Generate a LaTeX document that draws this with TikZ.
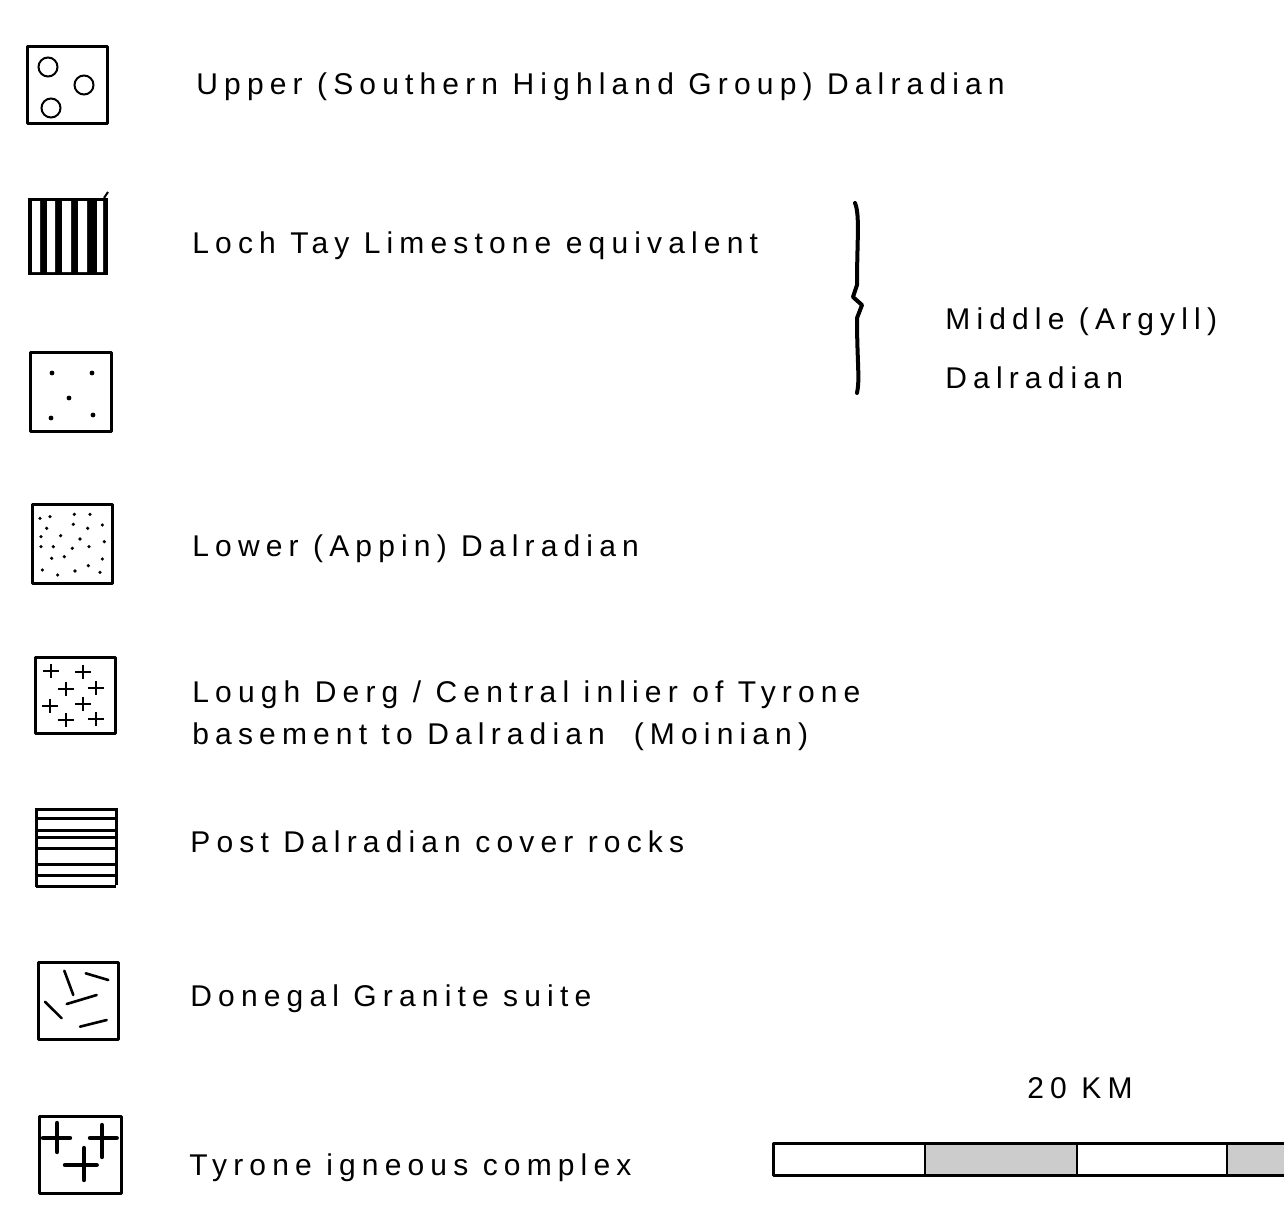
\documentclass[tikz,border=0pt]{standalone}
\usepackage{fontspec}
\setmainfont[LetterSpace=20.5]{Liberation Sans}
\begin{document}
\begin{tikzpicture}[x=0.5pt,y=-0.5pt,
  lbl/.style={anchor=base west, inner sep=0pt, font=\fontsize{15}{17}\selectfont},
  frame/.style={line width=1.5pt, line join=round},
  stroke/.style={line width=1.3pt, line cap=round},
  thickstroke/.style={line width=2.2pt, line cap=round}]
\useasboundingbox (0,0) rectangle (1284,1220);
% 1 Upper
\draw[frame] (27,47) rectangle (107,124);
\draw[line width=1pt] (48,67) circle[radius=9.5] (84,85) circle[radius=9.5] (51,108) circle[radius=9.5];
\node[lbl] (t1) at (196,95) {Upper (Southern Highland Group) Dalradian};
% 2 Loch Tay
\fill (28,198) rectangle (108,275);
\fill[white] (32,201) rectangle (40,272) (47,201) rectangle (55,272) (62,201) rectangle (71,272) (78,201) rectangle (87,272) (97,201) rectangle (103,272);
\draw[line width=1pt] (104,198) -- (108,192);
\node[lbl] (t2) at (192,253) {Loch Tay Limestone equivalent};
% 3 dots sparse
\draw[frame] (30,352) rectangle (111,431);
\foreach \p in {(52,373),(92,373),(69,398),(51,418),(93,415)} \fill \p circle[radius=2.4];
% brace
\draw[line width=2pt, line cap=round, line join=round] (855,203) .. controls (860,215) and (857,240) .. (857,285) -- (853,297) -- (862,305) -- (857,318) .. controls (857,360) and (860,380) .. (857,393);
\node[lbl] (t3) at (945,329) {Middle (Argyll)};
\node[lbl] (t4) at (945,388) {Dalradian};
% 4 Lower
\draw[frame] (32,504) rectangle (112,583);
\foreach \cx/\cy in {75/70,105/65,178/58,225/58,95/100,175/88,218/100,262/90,78/125,137/122,195/132,78/155,115/155,172/160,222/155,268/140,110/190,148/185,262/192,82/225,128/240,180/228,220/212,255/232}
  \fill ({15+\cx/3},{495+\cy/3}) circle[radius=1.8];
\node[lbl] (t5) at (192,556) {Lower (Appin) Dalradian};
% 5 Lough Derg
\draw[frame] (35,657) rectangle (115,733);
\foreach \cx/\cy in {108/78,205/80,152/132,242/130,105/182,205/178,152/225,242/222}
  \draw[line width=0.9pt] ({15+\cx/3-8},{645+\cy/3}) -- ({15+\cx/3+8},{645+\cy/3}) ({15+\cx/3},{645+\cy/3-7}) -- ({15+\cx/3},{645+\cy/3+7});
\node[lbl] (t6) at (192,702) {Lough Derg / Central inlier of Tyrone};
\node[lbl] (t7) at (192,744) {basement to Dalradian\ \ (Moinian)};
% 6 Post Dalradian
\draw[frame] (36,808) -- (36,887);
\draw[frame] (116,808) -- (116,885);
\foreach \yy in {809,818,830,837,848,864,875,886}
  \draw[line width=1.5pt] (36,\yy) -- (116,\yy);
\node[lbl] (t8) at (190,852) {Post Dalradian cover rocks};
% 7 Donegal granite
\draw[frame] (38,962) rectangle (118,1039);
\draw[stroke] (64.3,970.7) -- (73.3,995);
\draw[stroke] (85.7,973.3) -- (108.3,980);
\draw[stroke] (66.7,1004) -- (96.7,995);
\draw[stroke] (45,1001.7) -- (61.7,1018.3);
\draw[stroke] (80,1026.7) -- (106.7,1020);
\node[lbl] (t9) at (190,1006) {Donegal Granite suite};
% 8 Tyrone igneous
\draw[frame] (39,1116) rectangle (121.7,1193);
\draw[thickstroke] (43,1138) -- (70,1138) (57,1123) -- (57,1152);
\draw[thickstroke] (90,1138) -- (116.7,1138) (102,1125) -- (102,1157);
\draw[thickstroke] (65,1165) -- (96.7,1165) (84,1148) -- (84,1180);
\node[lbl] (t11) at (189,1175) {Tyrone igneous complex};
% scale bar
\fill[gray!40] (925,1143) rectangle (1077,1175);
\fill[gray!40] (1227,1143) rectangle (1284,1175);
\draw[frame] (1284,1143) -- (773,1143) -- (773,1175) -- (1284,1175);
\draw[line width=0.8pt] (925,1143) -- (925,1175) (1077,1143) -- (1077,1175) (1227,1143) -- (1227,1175);
\node[lbl] (t10) at (1027,1098) {20 KM};
\end{tikzpicture}
\end{document}
